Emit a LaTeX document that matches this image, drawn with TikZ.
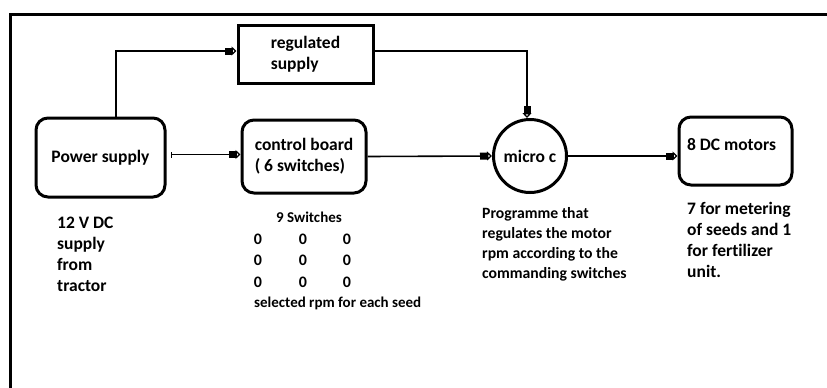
\documentclass[tikz,border=0pt]{standalone}
\usepackage{fontspec}
\setmainfont{Carlito}[Ligatures=NoCommon]
\usetikzlibrary{arrows.meta}

\tikzset{
	flowtip/.tip={Rectangle[length=7pt,width=7pt] Triangle[open,length=5pt,width=9pt,line width=1.3pt]},
	flow/.style={line width=1.6pt, -{flowtip}},
	bigtext/.style={font=\bfseries\fontsize{17.5}{21}\selectfont},
	smalltext/.style={font=\bfseries\fontsize{15}{20}\selectfont},
}

\begin{document}
\begin{tikzpicture}[x=1pt, y=-1pt]
	\useasboundingbox (0,0) rectangle (827,388);

	% frame
	\draw[line width=3pt] (10,388) -- (10,14) -- (827,14);

	% blocks
	\node[bigtext, draw, line width=3pt, rounded corners=12pt, minimum width=129pt, minimum height=79pt] (power) at (100.5,157.5) {Power supply};
	\node[bigtext, draw, line width=3pt, minimum width=135pt, minimum height=58pt, align=left] (regulated) at (305.5,54) {regulated\\supply};
	\node[bigtext, draw, line width=3pt, rounded corners=12pt, minimum width=124pt, minimum height=73pt, align=left] (control) at (304,156.5) {control board\\( 6 switches)};
	\node[bigtext, draw, line width=3pt, circle, minimum size=73pt, inner sep=0pt] (micro) at (530,156) {micro c};
	\node[draw, line width=3pt, rounded corners=12pt, minimum width=113pt, minimum height=68pt] (motors) at (735.5,151) {};
	\node[bigtext] (motorstext) at (731.5,145) {8 DC motors};

	% connectors
	\draw[flow] ([xshift=15.5pt]power.north) |- ([yshift=3pt]regulated.west);
	\draw[flow] ([yshift=3pt]regulated.east) -| ([xshift=-3pt]micro.north);
	\draw[flow, shorten <=4pt, {Bar[width=6pt,line width=0.8pt]}-{flowtip}] ([yshift=3pt]power.east) -- ([yshift=3pt]power.east -| control.west);
	\draw[flow] (control.east) -- (micro.west);
	\draw[flow] (micro.east) -- (micro.east -| motors.west);

	% notes
	\node[bigtext, anchor=north west, inner sep=0pt, align=left] (supplynote) at (57,217) {12 V DC\\supply\\from\\tractor};
	\node[smalltext] (switchtitle) at (309,217) {9 Switches};
	\foreach \col/\x in {1/258,2/303,3/347}
		\foreach \row/\y in {1/239,2/260,3/282}
			\node[font=\bfseries\fontsize{16}{20}\selectfont] (sw\row\col) at (\x,\y) {0};
	\node[smalltext, anchor=west, inner sep=0pt] (rpmnote) at (254,303) {selected rpm for each seed};
	\node[anchor=north west, inner sep=0pt, align=left, font=\bfseries\fontsize{15.7}{20}\selectfont] (prognote) at (482,207) {Programme that\\regulates the motor\\rpm according to the\\commanding switches};
	\node[bigtext, anchor=north west, inner sep=0pt, align=left] (motornote) at (687,202) {7 for metering\\of seeds and 1\\for fertilizer\\unit.};

\end{tikzpicture}
\end{document}
